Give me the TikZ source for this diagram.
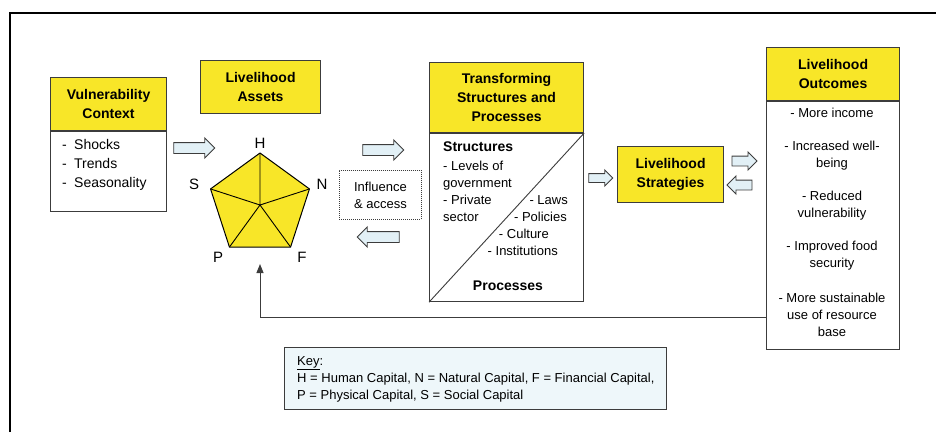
\documentclass[tikz,border=0pt]{standalone}
\usepackage{fontspec}
\setmainfont{Liberation Sans}
\usetikzlibrary{calc}
\usetikzlibrary{arrows.meta}
\usetikzlibrary{shapes.arrows}

\definecolor{slYellow}{RGB}{248,230,40}
\definecolor{slLine}{RGB}{60,60,60}
\definecolor{slArrow}{RGB}{226,240,246}
\definecolor{slKey}{RGB}{238,247,250}

\tikzset{
  box/.style={draw=slLine, line width=1.1pt, inner sep=0pt, anchor=north west},
  hdr/.style={box, fill=slYellow, align=center, font=\fontsize{14}{19}\selectfont\bfseries},
  bodybox/.style={box, fill=white},
  txt/.style={inner sep=0pt, font=\fontsize{13}{17}\selectfont},
  barrow/.style={single arrow, draw=slLine, fill=slArrow, line width=0.9pt, inner sep=0pt,
    single arrow head extend=4.5pt},
  corner/.style={inner sep=0pt, font=\fontsize{15}{18}\selectfont}
}

\begin{document}
\begin{tikzpicture}[x=1pt, y=-1pt]
\useasboundingbox (0,0) rectangle (936,432);

% frame
\draw[line width=2pt] (10,432) -- (10,13) -- (936,13);

% vulnerability context
\node[hdr, minimum width=116, minimum height=53] (vulnH) at (50,77) {Vulnerability\\Context};
\node[bodybox, minimum width=116, minimum height=80] (vulnB) at (vulnH.south west) {};
\node[txt, anchor=west, align=left, font=\fontsize{14}{19}\selectfont] (vulnT) at (62,165)
  {\makebox[12pt][l]{-}Shocks\\ \makebox[12pt][l]{-}Trends\\ \makebox[12pt][l]{-}Seasonality};

% livelihood assets
\node[hdr, minimum width=120, minimum height=53] (assets) at (200,60) {Livelihood\\Assets};

\coordinate (pc) at (260,205);
\foreach \n/\a in {H/-90,N/-18,F/54,P/126,S/198}
  \coordinate (v\n) at ($(pc)+(\a:52)$);
\filldraw[fill=slYellow, draw=black, line width=1pt, line join=round]
  (vH) -- (vN) -- (vF) -- (vP) -- (vS) -- cycle;
\draw[line width=0.9pt] (vS) -- (pc) -- (vH) (vN) -- (pc) (vP) -- (pc) -- (vF);
\node[corner] (lH) at (260,143) {H};
\node[corner] (lN) at (322,184) {N};
\node[corner] (lF) at (302,257) {F};
\node[corner] (lP) at (218,257) {P};
\node[corner] (lS) at (194,184) {S};

\node[barrow, minimum height=41] (a1) at (191.5,148) {\rule{0pt}{10pt}};

% influence and access
\node[box, fill=white, dash pattern=on 1pt off 1pt, line width=0.9pt, minimum width=82, minimum height=49] (infl) at (339,170) {};
\node[txt, align=center] (inflT) at (infl.center) {Influence\\\& access};
\node[barrow, minimum height=41] (a2) at (380.5,150) {\rule{0pt}{10pt}};
\node[barrow, minimum height=42, shape border rotate=180] (a3) at (381,237) {\rule{0pt}{10pt}};

% transforming structures
\node[hdr, minimum width=154, minimum height=70] (trH) at (429,62) {Transforming\\Structures and\\Processes};
\node[bodybox, minimum width=154, minimum height=168] (trB) at (trH.south west) {};
\draw[slLine, line width=0.9pt] (trB.south west) -- (trB.north east);
\node[txt, anchor=west, font=\fontsize{14}{17}\selectfont\bfseries] (strT) at (443,147) {Structures};
\node[txt, anchor=west, align=left] (strL) at (443,191.5) {- Levels of\\government\\- Private\\sector};
\node[txt, anchor=east] (pLaws) at (568,200) {- Laws};
\node[txt, anchor=east] (pPol) at (567,217) {- Policies};
\node[txt, anchor=east] (pCul) at (549,234) {- Culture};
\node[txt, anchor=east] (pInst) at (558,251) {- Institutions};
\node[txt, font=\fontsize{14}{17}\selectfont\bfseries] (procT) at (508,286) {Processes};

\node[barrow, minimum height=24, single arrow head extend=3.5pt] (a4) at (598.5,178) {\rule{0pt}{8pt}};

% strategies
\node[hdr, minimum width=106, minimum height=56] (strat) at (617,146) {Livelihood\\Strategies};
\node[barrow, minimum height=25, single arrow head extend=4pt] (a5) at (742,161) {\rule{0pt}{9pt}};
\node[barrow, minimum height=25, single arrow head extend=4pt, shape border rotate=180] (a6) at (742,185) {\rule{0pt}{9pt}};

% outcomes
\node[hdr, minimum width=133, minimum height=53] (outH) at (766,47) {Livelihood\\Outcomes};
\node[bodybox, minimum width=133, minimum height=248] (outB) at (outH.south west) {};
\node[txt] (o1) at (832,113) {- More income};
\node[txt, align=center] (o2) at (832,156) {- Increased well-\\being};
\node[txt, align=center] (o3) at (832,205.5) {- Reduced\\vulnerability};
\node[txt, align=center] (o4) at (832,255.5) {- Improved food\\security};
\node[txt, align=center] (o5) at (832,315) {- More sustainable\\use of resource\\base};

% feedback to assets
\coordinate (fbStart) at (outB.west |- 0,317);
\coordinate (fbEnd) at (260,264);
\draw[slLine, line width=1pt, -{Triangle[length=9pt, width=7pt]}] (fbStart) -| (fbEnd);

% key
\node[box, fill=slKey, minimum width=382, minimum height=62] (key) at (284,347) {};
\node[txt, anchor=west, align=left] (keyT) at (297,379)
  {\underline{Key}:\\H = Human Capital, N = Natural Capital, F = Financial Capital,\\P = Physical Capital, S = Social Capital};

\end{tikzpicture}
\end{document}
